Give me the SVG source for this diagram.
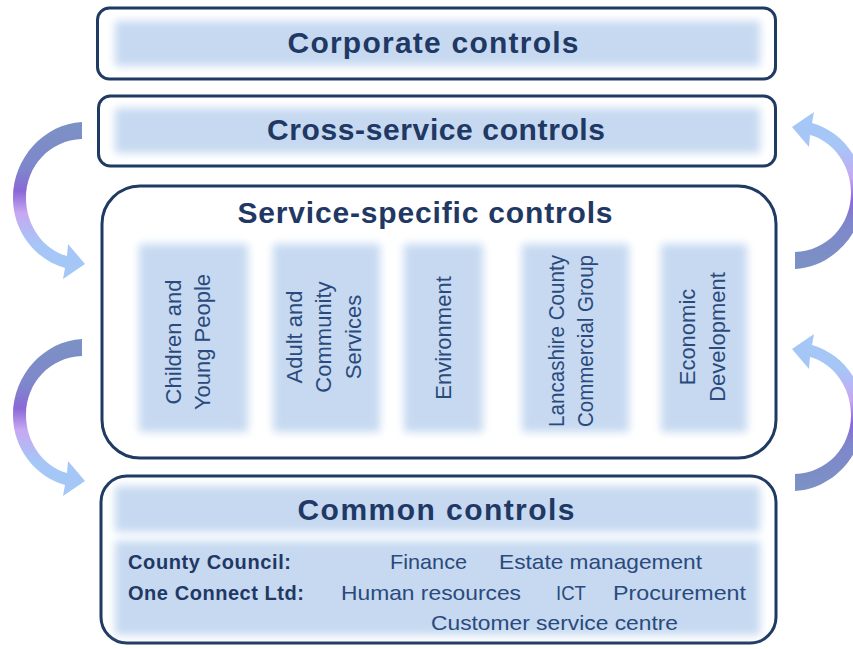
<svg xmlns="http://www.w3.org/2000/svg" xmlns:xlink="http://www.w3.org/1999/xlink" width="853" height="649" viewBox="0 0 853 649">
  <style>
    .frame { fill: #ffffff; stroke: #1f3a63; stroke-width: 3; }
    .band { fill: #c6d9f1; filter: url(#soft); }
    .title { font-family: "Liberation Sans", Arial, sans-serif; font-weight: bold; font-size: 30px; fill: #1f3864; text-anchor: middle; }
    .col { font-family: "Liberation Sans", Arial, sans-serif; font-size: 22px; fill: #2a4a7c; text-anchor: middle; }
    .lab { font-family: "Liberation Sans", Arial, sans-serif; font-weight: bold; font-size: 20px; fill: #1f3864; }
    .item { font-family: "Liberation Sans", Arial, sans-serif; font-size: 21px; fill: #2a4a7c; }
  </style>
  <defs>
    <filter id="soft" x="-0.1" y="-0.3" width="1.2" height="1.6">
      <feGaussianBlur stdDeviation="4"/>
    </filter>
    <linearGradient id="cycleFill" x1="0" y1="0" x2="0" y2="1">
      <stop offset="0" stop-color="#7b92c4"/>
      <stop offset="0.3" stop-color="#7f86cc"/>
      <stop offset="0.44" stop-color="#8a68d6"/>
      <stop offset="0.58" stop-color="#c6a8f2"/>
      <stop offset="0.78" stop-color="#a6c6f6"/>
      <stop offset="1" stop-color="#a3c8f7"/>
    </linearGradient>
    <!-- curved cycle arrow: tail at top right, head at bottom right -->
    <path id="cycle" fill="url(#cycleFill)"
          d="M 82 122 C 44 124, 13 158, 13 198 C 13 232, 36 260, 65 268 L 63 279 L 85 264 L 68 244 L 67 256 C 44 250, 26 226, 26 198 C 26 166, 50 140, 82 139 Z"/>
  </defs>

  <rect width="853" height="649" fill="#ffffff"/>

  <!-- cycle arrows on both sides -->
  <g id="connectors">
    <use xlink:href="#cycle"/>
    <use xlink:href="#cycle" transform="translate(0,217)"/>
    <use xlink:href="#cycle" transform="rotate(180 438.5 195.5)"/>
    <use xlink:href="#cycle" transform="translate(0,222) rotate(180 438.5 195.5)"/>
  </g>

  <g id="corporate">
    <rect class="frame" x="97.5" y="8" width="678" height="71" rx="12"/>
    <rect class="band" x="115" y="21" width="645" height="45"/>
    <text class="title" x="433" y="53" textLength="291">Corporate controls</text>
  </g>

  <g id="cross-service">
    <rect class="frame" x="98.5" y="96" width="677" height="70" rx="12"/>
    <rect class="band" x="115" y="108" width="645" height="45"/>
    <text class="title" x="436" y="140" textLength="338">Cross-service controls</text>
  </g>

  <g id="service-specific">
    <rect class="frame" x="102" y="186" width="674" height="272" rx="38"/>
    <text class="title" x="425" y="223" textLength="375">Service-specific controls</text>

    <g id="children">
      <rect class="band" x="139" y="244" width="109" height="188"/>
      <text class="col" transform="translate(181,342) rotate(-90)">Children and</text>
      <text class="col" transform="translate(210,342) rotate(-90)">Young People</text>
    </g>
    <g id="adult">
      <rect class="band" x="273" y="244" width="107" height="188"/>
      <text class="col" transform="translate(302,337) rotate(-90)">Adult and</text>
      <text class="col" transform="translate(331,337) rotate(-90)">Community</text>
      <text class="col" transform="translate(361,337) rotate(-90)">Services</text>
    </g>
    <g id="environment">
      <rect class="band" x="404" y="244" width="79" height="188"/>
      <text class="col" transform="translate(451,338) rotate(-90)">Environment</text>
    </g>
    <g id="lancashire">
      <rect class="band" x="522" y="244" width="107" height="188"/>
      <text class="col" transform="translate(564,341) rotate(-90)" textLength="172" lengthAdjust="spacingAndGlyphs">Lancashire County</text>
      <text class="col" transform="translate(593,341) rotate(-90)" textLength="172" lengthAdjust="spacingAndGlyphs">Commercial Group</text>
    </g>
    <g id="economic">
      <rect class="band" x="661" y="244" width="86" height="188"/>
      <text class="col" transform="translate(695,337) rotate(-90)">Economic</text>
      <text class="col" transform="translate(725,337) rotate(-90)">Development</text>
    </g>
  </g>

  <g id="common">
    <rect class="frame" x="101" y="476" width="675" height="167" rx="26"/>
    <rect class="band" x="115" y="486" width="645" height="46"/>
    <rect class="band" x="115" y="541" width="645" height="94"/>
    <text class="title" x="436" y="520" textLength="277">Common controls</text>
    <text class="lab" x="128" y="569" textLength="163">County Council:</text>
    <text class="item" x="390" y="569" textLength="77" lengthAdjust="spacingAndGlyphs">Finance</text>
    <text class="item" x="499" y="569" textLength="203" lengthAdjust="spacingAndGlyphs">Estate management</text>
    <text class="lab" x="128" y="600" textLength="176">One Connect Ltd:</text>
    <text class="item" x="341" y="600" textLength="180" lengthAdjust="spacingAndGlyphs">Human resources</text>
    <text class="item" x="556" y="600" textLength="30" lengthAdjust="spacingAndGlyphs">ICT</text>
    <text class="item" x="613" y="600" textLength="133" lengthAdjust="spacingAndGlyphs">Procurement</text>
    <text class="item" x="431" y="630" textLength="247" lengthAdjust="spacingAndGlyphs">Customer service centre</text>
  </g>
</svg>
